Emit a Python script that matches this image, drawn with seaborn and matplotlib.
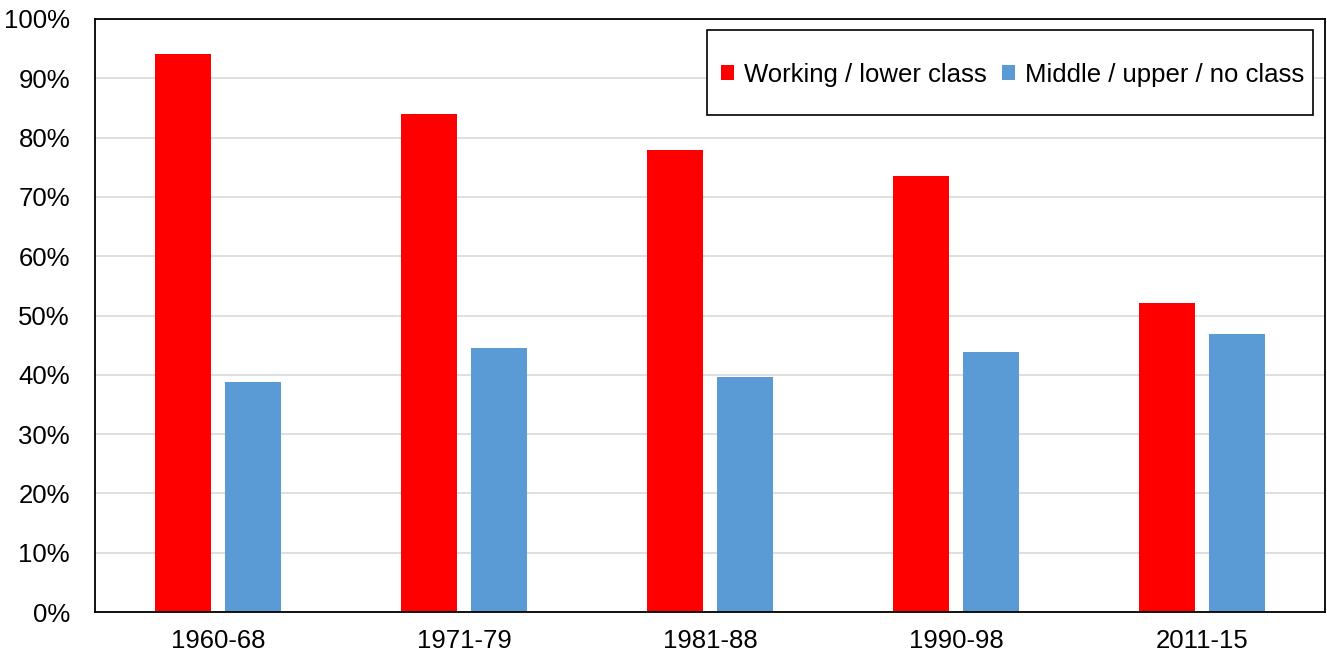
import seaborn as sns
import pandas as pd
import matplotlib
matplotlib.use("Agg")
import matplotlib.pyplot as plt
from matplotlib.patches import Rectangle

periods = ["1960-68", "1971-79", "1981-88", "1990-98", "2011-15"]
working_lower = [94.1, 84.0, 77.9, 73.5, 52.1]
middle_upper = [38.8, 44.5, 39.6, 43.8, 46.9]
series_names = ["Working / lower class", "Middle / upper / no class"]
colors = ["#FF0000", "#5B9BD5"]


def build_df():
    rows = []
    for p, w, m in zip(periods, working_lower, middle_upper):
        rows.append({"period": p, "class": series_names[0], "share": w})
        rows.append({"period": p, "class": series_names[1], "share": m})
    return pd.DataFrame(rows)


def barplot():
    df = build_df()
    sns.set_style("white")
    plt.rcParams["font.family"] = ["Liberation Sans", "DejaVu Sans"]
    fs = 18.5

    fig = plt.figure(figsize=(13.27, 6.57), dpi=100)
    ax = fig.add_axes([95 / 1327, 1 - 612 / 657, 1230 / 1327, 593 / 657])
    sns.barplot(data=df, x="period", y="share", hue="class", order=periods,
                hue_order=series_names, palette=colors, width=0.572, gap=0.2,
                linewidth=0, saturation=1, ax=ax, zorder=2)

    ax.set_ylim(0, 100)
    ax.set_xlim(-0.5, len(periods) - 0.5)
    ax.set_yticks(range(0, 101, 10))
    ax.set_yticklabels([f"{v}%" for v in range(0, 101, 10)])
    ax.yaxis.grid(True, color="#d9d9d9", linewidth=1.2, zorder=0)
    ax.set_axisbelow(True)
    ax.set_xlabel("")
    ax.set_ylabel("")
    ax.tick_params(axis="both", length=0, labelsize=fs, labelcolor="black")
    ax.tick_params(axis="y", pad=18)
    ax.tick_params(axis="x", pad=12)
    for side in ["top", "bottom", "left", "right"]:
        ax.spines[side].set_visible(True)
        ax.spines[side].set_color("black")
        ax.spines[side].set_linewidth(1.3)

    leg = ax.legend(loc="center", bbox_to_anchor=(0.746, 0.906), ncol=2,
                    frameon=False, fontsize=fs, handlelength=0.5,
                    handleheight=0.5, handletextpad=0.4, columnspacing=0.6)
    for t in leg.get_texts():
        t.set_color("black")
    frame = Rectangle((0.4976, 0.838), 0.4927, 0.143, transform=ax.transAxes,
                      fill=True, facecolor="white", edgecolor="black",
                      linewidth=1.2, zorder=3)
    ax.add_patch(frame)
    leg.set_zorder(4)

    plt.savefig("out.png", dpi=100)


if __name__ == '__main__':
    barplot()
